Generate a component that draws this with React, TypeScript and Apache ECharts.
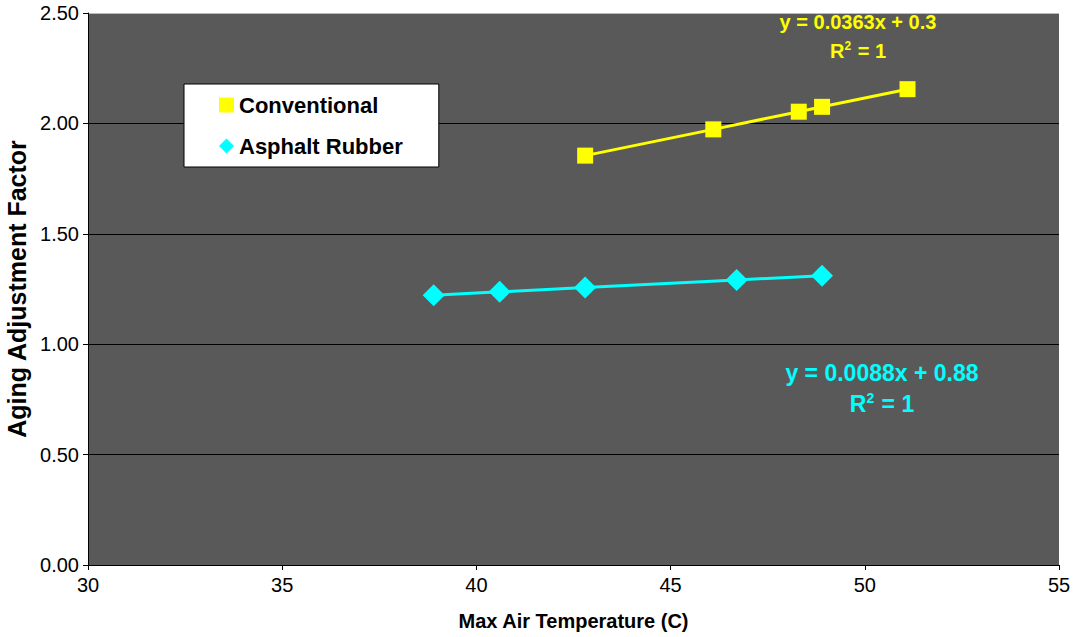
import React, { useEffect, useRef } from "react";
import * as echarts from "echarts";

const seriesNames = ["Conventional", "Asphalt Rubber"];
const conventionalX = [42.8, 46.1, 48.3, 48.9, 51.1];
const conventionalY = [1.854, 1.973, 2.053, 2.075, 2.155];
const rubberX = [38.9, 40.6, 42.8, 46.7, 48.9];
const rubberY = [1.222, 1.237, 1.257, 1.291, 1.310];
const trendTexts = ["y = 0.0363x + 0.3", "y = 0.0088x + 0.88"];
const r2Text = "R{sup|2} = 1";

const FONT = "'Liberation Sans', Arial, sans-serif";

export default function App() {
  const ref = useRef<HTMLDivElement>(null);
  useEffect(() => {
    if (!ref.current) return;
    const chart = echarts.init(ref.current, null, { renderer: "svg" });
    const pair = (xs: number[], ys: number[]) => xs.map((x, i) => [x, ys[i]]);
    const trendText = (text: string, x: number, y: number, color: string, size: number) => ({
      type: "text",
      x,
      y,
      style: {
        text,
        fill: color,
        font: `bold ${size}px ${FONT}`,
        align: "center",
        verticalAlign: "middle",
        rich: {
          sup: { fill: color, fontFamily: FONT, fontWeight: "bold", fontSize: Math.round(size * 0.6), padding: [0, 1, size * 0.55, 0] },
        },
      },
    });
    chart.setOption({
      animation: false,
      backgroundColor: "#ffffff",
      textStyle: { fontFamily: FONT },
      grid: {
        left: 88,
        right: 15,
        top: 13,
        bottom: 72,
        containLabel: false,
        outerBoundsMode: "none",
        show: true,
        backgroundColor: "#595959",
        borderWidth: 0,
      },
      xAxis: {
        type: "value",
        min: 30,
        max: 55,
        interval: 5,
        name: "Max Air Temperature (C)",
        nameLocation: "middle",
        nameGap: 46,
        nameTextStyle: { fontFamily: FONT, fontWeight: "bold", fontSize: 20, color: "#000" },
        axisLine: { show: true, lineStyle: { color: "#000", width: 1 } },
        axisTick: { show: true, length: 5, lineStyle: { color: "#000" } },
        axisLabel: { fontFamily: FONT, fontSize: 20, color: "#000", margin: 10 },
        splitLine: { show: false },
      },
      yAxis: {
        type: "value",
        min: 0,
        max: 2.5,
        interval: 0.5,
        name: "Aging Adjustment Factor",
        nameLocation: "middle",
        nameGap: 57,
        nameTextStyle: { fontFamily: FONT, fontWeight: "bold", fontSize: 25, color: "#000" },
        axisLine: { show: true, lineStyle: { color: "#000", width: 1 } },
        axisTick: { show: true, length: 5, lineStyle: { color: "#000" } },
        axisLabel: {
          fontFamily: FONT,
          fontSize: 20,
          color: "#000",
          margin: 9,
          formatter: (v: number) => v.toFixed(2),
        },
        splitLine: {
          show: true,
          lineStyle: { color: ["#000", "#000", "#000", "#000", "#000", "#a9c4c9"], width: 1 },
        },
      },
      legend: {
        left: 184,
        top: 84,
        orient: "vertical",
        backgroundColor: "#ffffff",
        borderColor: "#000",
        borderWidth: 1,
        borderRadius: 0,
        padding: [10, 36, 10, 35],
        itemGap: 19,
        itemWidth: 15,
        itemHeight: 15,
        textStyle: { fontFamily: FONT, fontWeight: "bold", fontSize: 22, color: "#000" },
        data: [
          { name: seriesNames[0], icon: "rect" },
          { name: seriesNames[1], icon: "diamond" },
        ],
      },
      series: [
        {
          name: seriesNames[0],
          type: "line",
          data: pair(conventionalX, conventionalY),
          symbol: "rect",
          symbolSize: 16,
          lineStyle: { color: "#ffff00", width: 3 },
          itemStyle: { color: "#ffff00" },
        },
        {
          name: seriesNames[1],
          type: "line",
          data: pair(rubberX, rubberY),
          symbol: "diamond",
          symbolSize: 22,
          lineStyle: { color: "#00ffff", width: 3 },
          itemStyle: { color: "#00ffff" },
        },
      ],
      graphic: [
        trendText(trendTexts[0], 858, 22, "#ffff00", 20),
        trendText(r2Text, 858, 51, "#ffff00", 20),
        trendText(trendTexts[1], 882, 373, "#00ffff", 23),
        trendText(r2Text, 882, 404, "#00ffff", 23),
      ],
    });
    return () => chart.dispose();
  }, []);
  return (
    <div
      ref={ref}
      style={{ position: "fixed", left: 0, top: 0, width: 1074, height: 637 }}
    />
  );
}
